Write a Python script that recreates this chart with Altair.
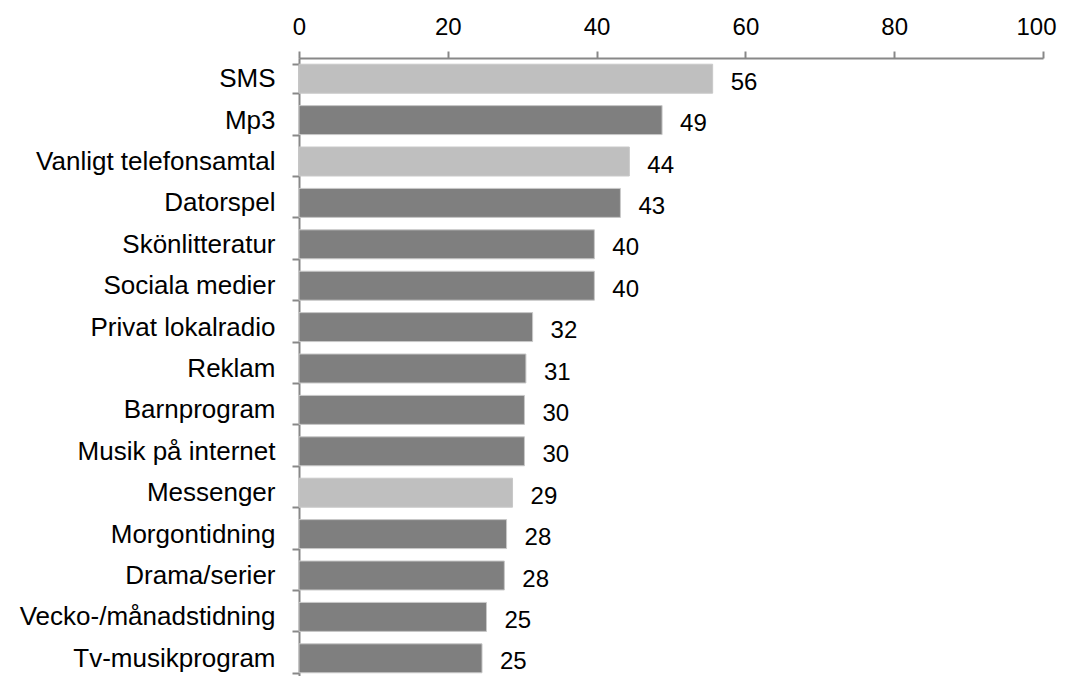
import altair as alt
import pandas as pd

categories = ["SMS", "Mp3", "Vanligt telefonsamtal", "Datorspel", "Skönlitteratur",
              "Sociala medier", "Privat lokalradio", "Reklam", "Barnprogram",
              "Musik på internet", "Messenger", "Morgontidning", "Drama/serier",
              "Vecko-/månadstidning", "Tv-musikprogram"]
values = [55.6, 48.8, 44.4, 43.2, 39.7, 39.7, 31.4, 30.5, 30.3, 30.3, 28.7, 27.9, 27.6, 25.2, 24.6]
labels = ["56", "49", "44", "43", "40", "40", "32", "31", "30", "30", "29", "28", "28", "25", "25"]
highlight = [True, False, True, False, False, False, False, False, False, False, True, False, False, False, False]
x_ticks = [0, 20, 40, 60, 80, 100]

df = pd.DataFrame({"cat": categories, "val": values, "lab": labels,
                   "grp": ["light" if h else "dark" for h in highlight]})

FONT = "Liberation Sans"

y = alt.Y("cat:N", sort=categories, title=None,
          scale=alt.Scale(paddingInner=0.3, paddingOuter=0.15),
          axis=alt.Axis(tickBand="extent", tickSize=7, tickColor="#888888", tickWidth=2,
                        domainColor="#888888", domainWidth=2, labelFont=FONT,
                        labelFontSize=26, labelColor="#000000", labelPadding=17,
                        labelLimit=400))

x = alt.X("val:Q", title=None, scale=alt.Scale(domain=[0, 100], nice=False),
          axis=alt.Axis(orient="top", values=x_ticks, tickSize=7,
                        tickColor="#888888", tickWidth=2, domainColor="#888888",
                        domainWidth=2, labelFont=FONT, labelFontSize=24,
                        labelColor="#000000", labelPadding=12, grid=False,
                        labelFlush=False,
                        labelOffset={"condition": {"test": "datum.value == 100", "value": -7},
                                     "value": 0}))

bars = alt.Chart(df).mark_bar(stroke="#c8c8c8", strokeWidth=1).encode(
    x=x, y=y,
    color=alt.Color("grp:N", scale=alt.Scale(domain=["light", "dark"],
                                             range=["#bfbfbf", "#7f7f7f"]), legend=None),
)

text = alt.Chart(df).mark_text(align="left", baseline="middle", dx=18, dy=4,
                               font=FONT, fontSize=24, color="#000000").encode(
    x="val:Q", y=alt.Y("cat:N", sort=categories), text="lab:N")

chart = (bars + text).properties(
    width=744, height=621,
    autosize=alt.AutoSizeParams(type="none"),
    padding={"left": 291, "top": 50, "right": 14, "bottom": -3},
).configure_view(stroke=None)

chart.save("out.html", embed_options={"renderer": "svg", "actions": False})
